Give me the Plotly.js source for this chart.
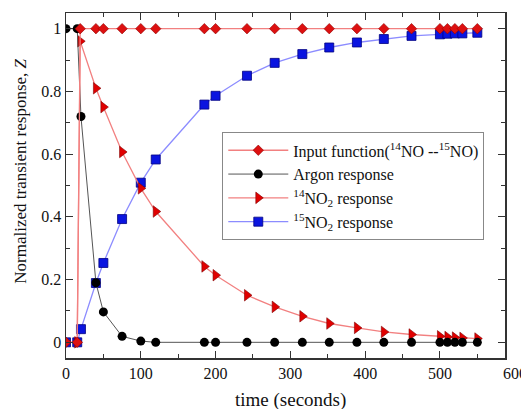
<!DOCTYPE html>
<html>
<head>
<meta charset="utf-8">
<script src="https://cdn.plot.ly/plotly-3.0.1.min.js"></script>
<style>html,body{margin:0;padding:0;background:#fff;}#chart{width:521px;height:409px;}</style>
</head>
<body>
<div id="chart"></div>
<script>
var tRed = [0,15,19,40,50,75,100,120,185,200,242,279,316,352,389,425,462,500,510,520,530,550];
var tOther = [0,15,20,40,50,75,100,120,185,200,242,279,316,352,389,425,462,500,510,520,530,550];
var inputFn = [0,0,1,1,1,1,1,1,1,1,1,1,1,1,1,1,1,1,1,1,1,1];
var argon = [1,1,0.72,0.19,0.097,0.019,0.004,0,0,0,0,0,0,0,0,0,0,0,0,0,0,0];
var no2_14 = [0,0,0.96,0.81,0.75,0.607,0.491,0.417,0.242,0.214,0.15,0.113,0.083,0.060,0.046,0.033,0.025,0.019,0.017,0.015,0.014,0.012];
var no2_15 = [0,0,0.042,0.189,0.253,0.393,0.509,0.583,0.758,0.786,0.85,0.891,0.919,0.94,0.956,0.967,0.977,0.982,0.984,0.985,0.985,0.987];
var names = ['Input function(<sup>14</sup>NO --<sup>15</sup>NO)','Argon response','<sup>14</sup>NO<sub>2</sub> response','<sup>15</sup>NO<sub>2</sub> response'];

var font = 'Liberation Serif';
var data = [
  {x: tOther, y: no2_15, name: names[3], mode: 'lines+markers',
   line: {color: '#8c8cff', width: 1.3},
   marker: {symbol: 'square', size: 9, color: '#0a14e0', line: {color: '#000080', width: 0.8}}},
  {x: tRed, y: no2_14, name: names[2], mode: 'lines+markers',
   line: {color: '#f28080', width: 1.3},
   marker: {symbol: 'triangle-right', size: 10, color: '#e00000', line: {color: '#800000', width: 0.6}}},
  {x: tOther, y: argon, name: names[1], mode: 'lines+markers',
   line: {color: '#555555', width: 1},
   marker: {symbol: 'circle', size: 9, color: '#000000'}},
  {x: tRed, y: inputFn, name: names[0], mode: 'lines+markers',
   line: {color: '#f28080', width: 1.3},
   marker: {symbol: 'diamond', size: 8, color: '#dd1010', line: {color: '#900000', width: 0.6}}}
];

var layout = {
  width: 521, height: 409,
  margin: {l: 66, r: 16, t: 13, b: 51},
  paper_bgcolor: '#fff', plot_bgcolor: '#fff',
  font: {family: font, size: 16},
  showlegend: true,
  legend: {x: 0.356, y: 0.654, xanchor: 'left', yanchor: 'top', traceorder: 'reversed',
           bordercolor: '#888', borderwidth: 1, bgcolor: '#fff', itemwidth: 60,
           font: {family: font, size: 16, color: '#111'}, tracegroupgap: 0},
  xaxis: {range: [0, 587], dtick: 100, tick0: 0, ticks: 'inside', ticklen: 7, tickwidth: 1, tickcolor: '#333',
          minor: {dtick: 50, ticks: 'inside', ticklen: 4, tickcolor: '#333'},
          showline: true, linecolor: '#333', linewidth: 1.5, mirror: 'ticks', showgrid: false, zeroline: false,
          tickfont: {color: '#111'}},
  yaxis: {range: [-0.05, 1.05], dtick: 0.2, tick0: 0, ticks: 'inside', ticklen: 7, tickwidth: 1, tickcolor: '#333',
          minor: {dtick: 0.1, ticks: 'inside', ticklen: 4, tickcolor: '#333'},
          showline: true, linecolor: '#333', linewidth: 1.5, mirror: 'ticks', showgrid: false, zeroline: false,
          tickfont: {color: '#111'}},
  annotations: [
    {text: 'Normalized transient response, <i>Z</i>', xref: 'paper', yref: 'paper', x: -0.104, y: 0.541,
     xanchor: 'center', yanchor: 'middle',
     textangle: -90, showarrow: false, font: {size: 17, color: '#111'}},
    {text: 'time (seconds)', xref: 'paper', yref: 'paper', x: 0.511, y: -0.123,
     xanchor: 'center', yanchor: 'middle',
     showarrow: false, font: {size: 19, color: '#111'}},
    {text: '600', xref: 'paper', yref: 'paper', x: 600/587, y: -0.044, xanchor: 'center', yanchor: 'middle',
     showarrow: false, font: {size: 16, color: '#111'}}
  ]
};
Plotly.newPlot('chart', data, layout, {displayModeBar: false, staticPlot: true});
</script>
</body>
</html>
